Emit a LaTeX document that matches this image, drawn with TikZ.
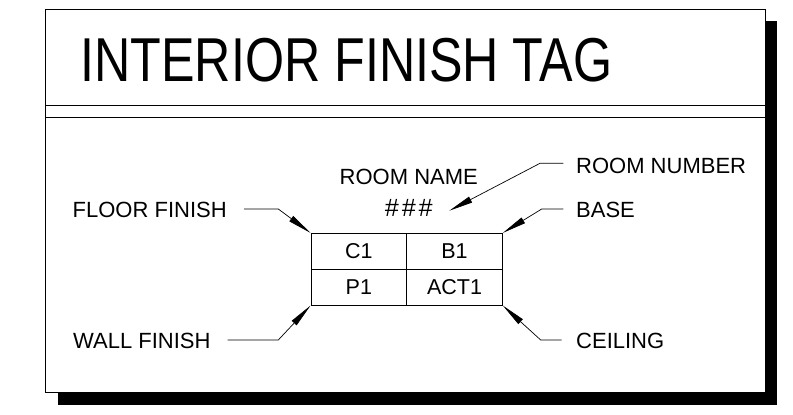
\documentclass[tikz,border=0pt]{standalone}
\usepackage{fontspec}
\setmainfont{Liberation Sans}
\newfontfamily\titlefont[FakeStretch=0.81]{Liberation Sans}
\usetikzlibrary{arrows.meta}
\begin{document}
\begin{tikzpicture}[x=1pt,y=-1pt,
  frame/.style={draw=black,line width=1pt,fill=white},
  rule/.style={draw=black,line width=0.9pt},
  lbl/.style={inner sep=0pt,font=\fontsize{22}{24}\selectfont},
  cell/.style={draw=black,line width=0.9pt,minimum width=95.7pt,minimum height=35.85pt,inner sep=0pt,font=\fontsize{21.5}{24}\selectfont},
  leader/.style={draw=black,line width=0.7pt,-{Triangle[length=24pt,width=6.5pt]}}]
\useasboundingbox (0,0) rectangle (793,415);
% shadow and frame
\fill[black] (57.7,21.3) rectangle (777,404.5);
\path[frame] (45.7,9.3) rectangle (765,392);
\coordinate (l1) at (45.7,105.3); \coordinate (r1) at (765,105.3);
\coordinate (l2) at (45.7,117.3); \coordinate (r2) at (765,117.3);
\draw[rule] (l1) -- (r1);
\draw[rule] (l2) -- (r2);
% title
\node[inner sep=0pt,anchor=base,font=\titlefont\fontsize{62}{70}\selectfont] (title) at (346.5,81.7) {INTERIOR FINISH TAG};
% table
\node[cell] (c1) at (358.85,251.3) {C1};
\node[cell] (b1) at (454.5,251.3) {B1};
\node[cell] (p1) at (358.85,287.15) {P1};
\node[cell] (act) at (454.5,287.15) {ACT1};
% centred texts
\node[lbl,anchor=base] (rname) at (408.8,184) {ROOM NAME};
\node[lbl,anchor=base,font=\fontsize{25}{26}\selectfont\itshape] (hash) at (408.5,216.7) {\#\hspace{3pt}\#\hspace{3pt}\#};
% labels
\node[lbl,anchor=base west] (floor) at (72.5,217.3) {FLOOR FINISH};
\node[lbl,anchor=base west] (wall) at (73,348.3) {WALL FINISH};
\node[lbl,anchor=base west] (rnum) at (576,173.3) {ROOM NUMBER};
\node[lbl,anchor=base west] (base) at (576,217.3) {BASE};
\node[lbl,anchor=base west] (ceil) at (576,348.3) {CEILING};
% leader points
\coordinate (fs) at (244,209); \coordinate (fe) at (278.3,209);
\coordinate (ws) at (227.7,340); \coordinate (we) at (278.3,340);
\coordinate (ns) at (563.3,163.3); \coordinate (ne) at (540,163.3);
\coordinate (bs) at (563.3,209); \coordinate (be) at (541.7,209);
\coordinate (cs) at (561.7,340); \coordinate (ce) at (540.7,340);
\coordinate (ht) at (449.3,210.7);
\draw[leader] (fs) -- (fe) -- (c1.north west);
\draw[leader] (ws) -- (we) -- (p1.south west);
\draw[leader] (ns) -- (ne) -- (ht);
\draw[leader] (bs) -- (be) -- (b1.north east);
\draw[leader] (cs) -- (ce) -- (act.south east);
\end{tikzpicture}
\end{document}
